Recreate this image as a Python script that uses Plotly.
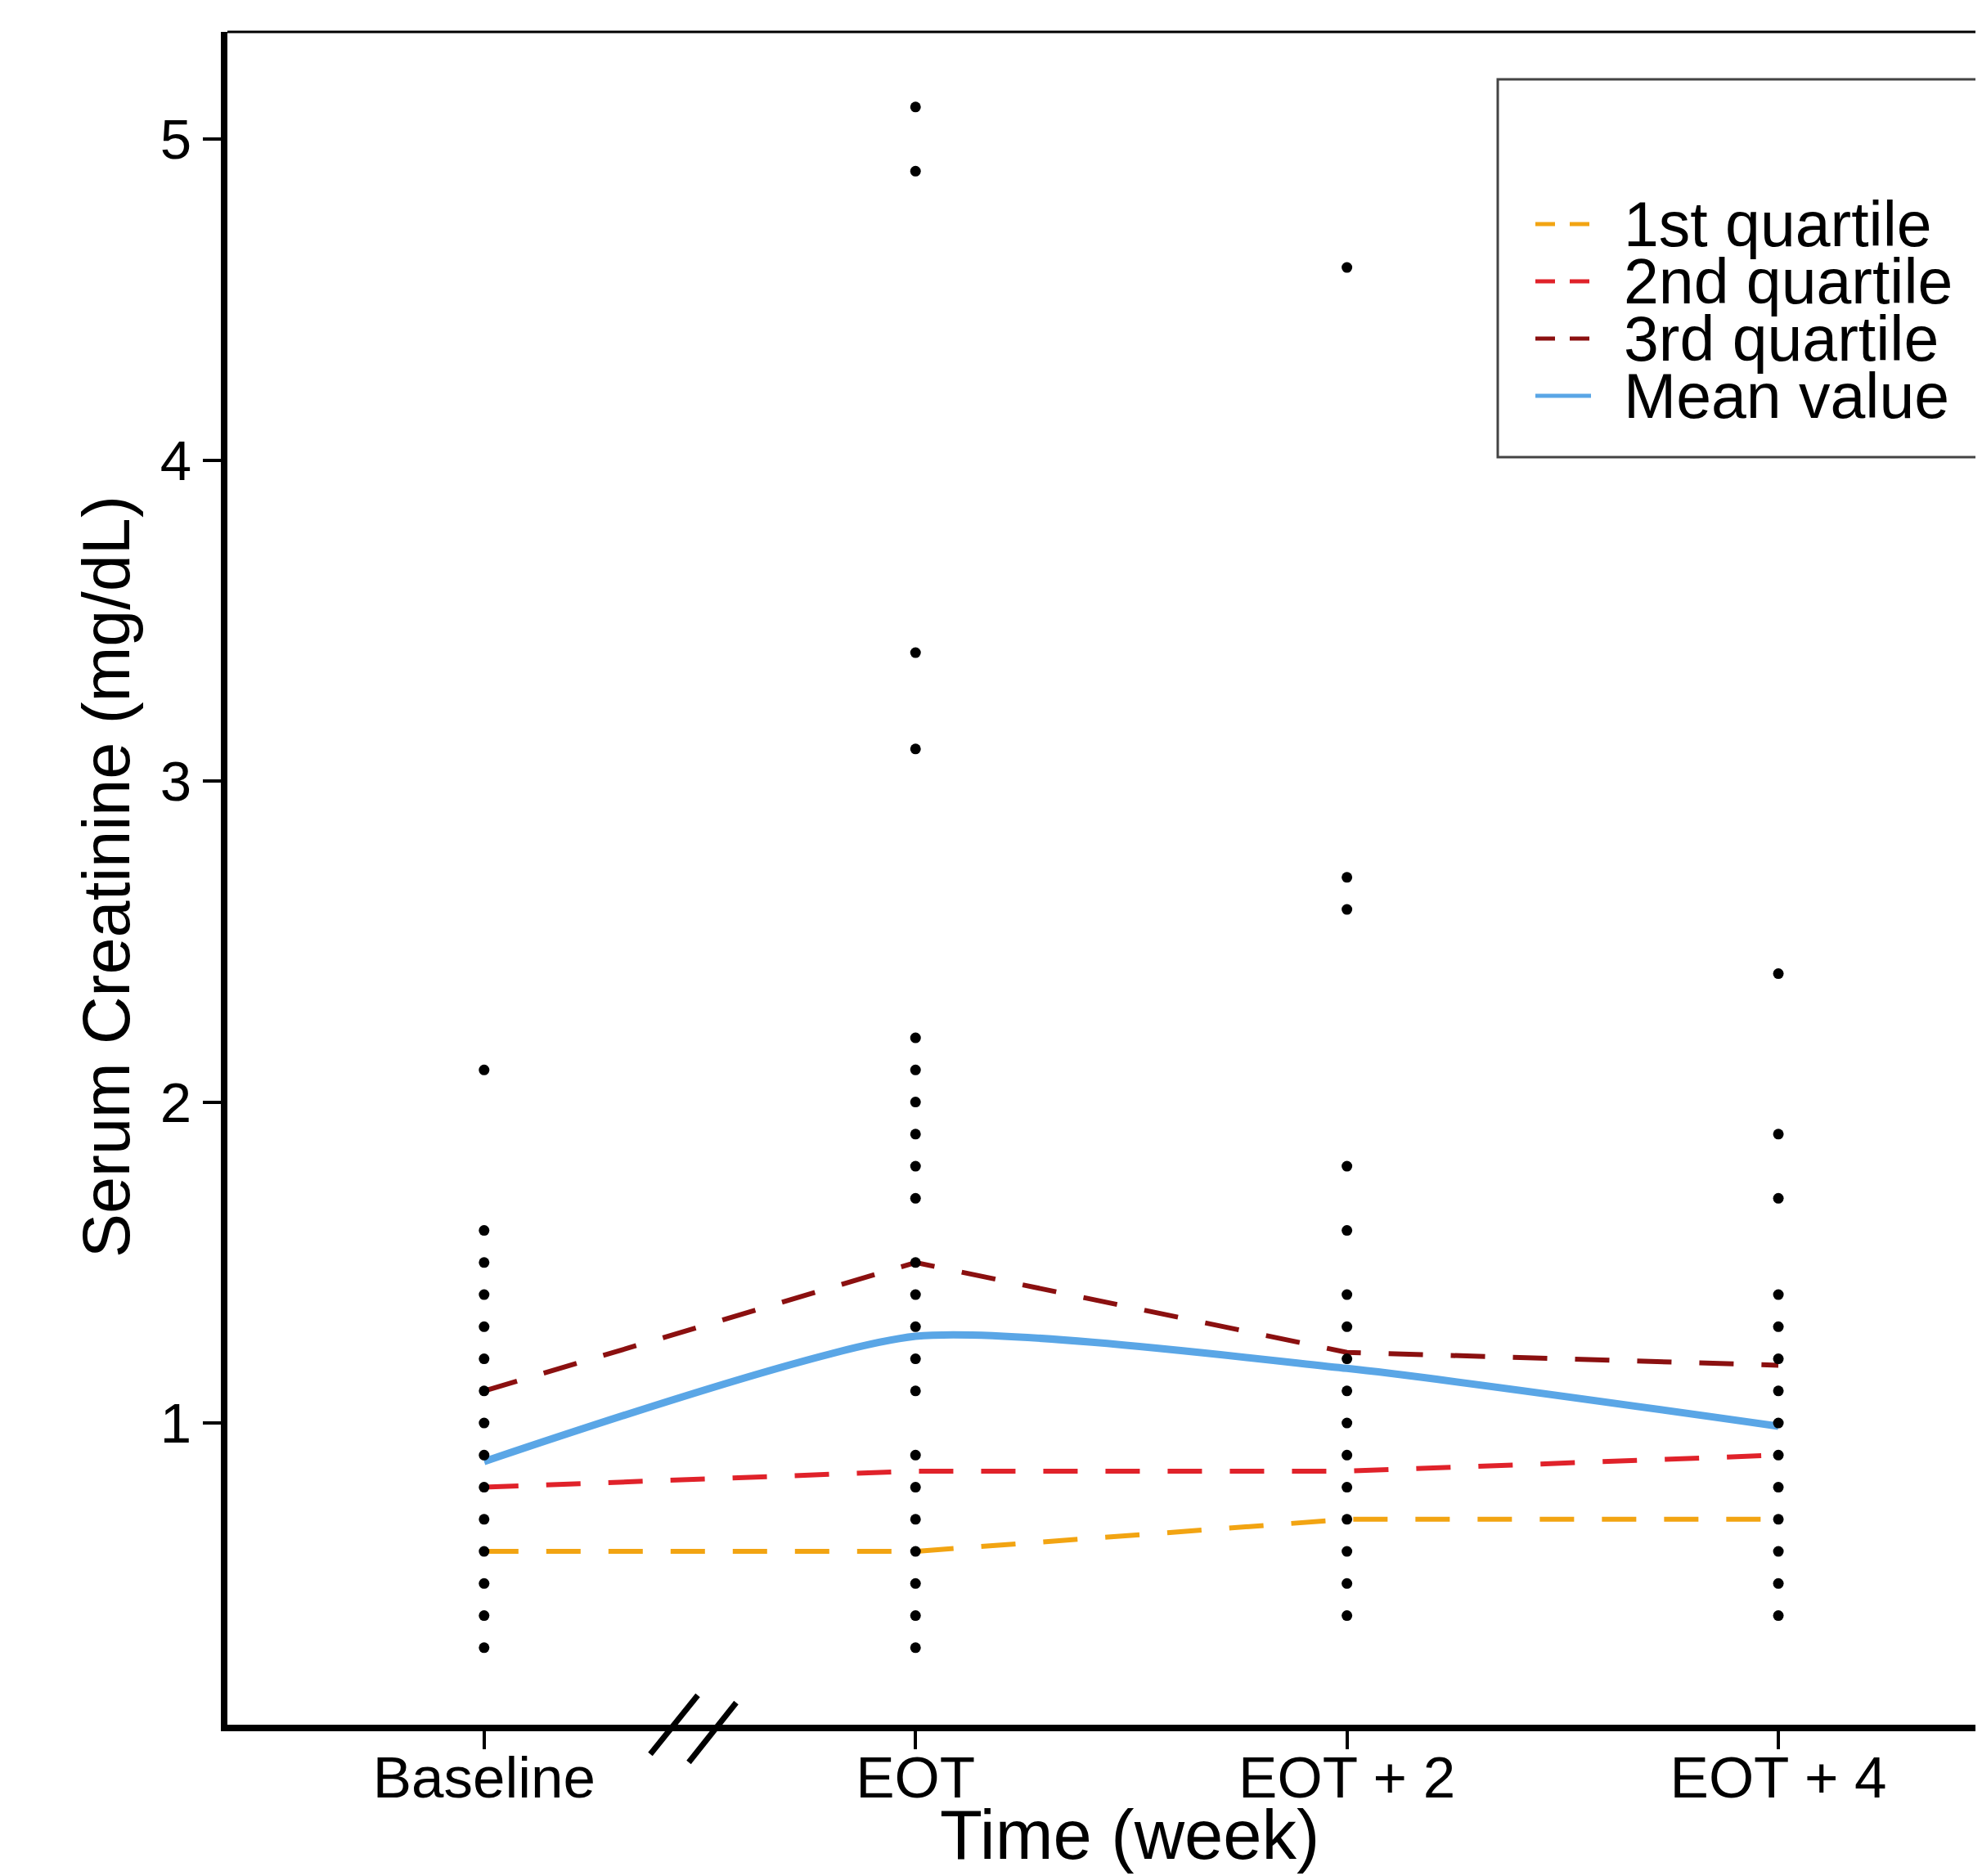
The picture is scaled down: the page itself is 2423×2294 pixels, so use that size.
import plotly.graph_objects as go

# ---------------- data ----------------
categories = ["Baseline", "EOT", "EOT + 2", "EOT + 4"]
cat_pos = [1, 2, 3, 4]

baseline_vals = [0.3, 0.4, 0.5, 0.6, 0.7, 0.8, 0.9, 1.0, 1.1, 1.2, 1.3, 1.4, 1.5, 1.6, 2.1]
eot_vals = [0.3, 0.4, 0.5, 0.6, 0.7, 0.8, 0.9, 1.1, 1.2, 1.3, 1.4, 1.5, 1.7, 1.8, 1.9,
            2.0, 2.1, 2.2, 3.1, 3.4, 4.9, 5.1]
eot2_vals = [0.4, 0.5, 0.6, 0.7, 0.8, 0.9, 1.0, 1.1, 1.2, 1.3, 1.4, 1.6, 1.8, 2.6, 2.7, 4.6]
eot4_vals = [0.4, 0.5, 0.6, 0.7, 0.8, 0.9, 1.0, 1.1, 1.2, 1.3, 1.4, 1.7, 1.9, 2.4]

q1_vals = [0.60, 0.60, 0.70, 0.70]
q2_vals = [0.80, 0.85, 0.85, 0.90]
q3_vals = [1.10, 1.50, 1.22, 1.18]
mean_vals = [0.88, 1.27, 1.17, 0.99]

series_names = ["1st quartile", "2nd quartile", "3rd quartile", "Mean value"]
y_ticks = [1, 2, 3, 4, 5]

# ---------------- style ----------------
FONT = "Liberation Sans, Arial, Helvetica, sans-serif"
C_Q1 = "#F2A412"
C_Q2 = "#E0222A"
C_Q3 = "#8B1010"
C_MEAN = "#5AA6E6"
DASH = "42px,34px"

BODY = 8  # default page margin of the html body
W, H = 2423 - BODY, 2294 - BODY
ML, MR, MT, MB = 270, 0, 31, 185
PW, PH = W - ML - MR, H - MT - MB

fig = go.Figure()

fig.add_trace(go.Scatter(x=cat_pos, y=q1_vals, mode="lines", name=series_names[0],
                         line=dict(color=C_Q1, width=6, dash=DASH), showlegend=False))
fig.add_trace(go.Scatter(x=cat_pos, y=q2_vals, mode="lines", name=series_names[1],
                         line=dict(color=C_Q2, width=6, dash=DASH), showlegend=False))
fig.add_trace(go.Scatter(x=cat_pos, y=q3_vals, mode="lines", name=series_names[2],
                         line=dict(color=C_Q3, width=6, dash=DASH), showlegend=False))
fig.add_trace(go.Scatter(x=cat_pos, y=mean_vals, mode="lines", name=series_names[3],
                         line=dict(color=C_MEAN, width=9, shape="spline", smoothing=0.6),
                         showlegend=False))

all_x, all_y = [], []
for pos, vals in zip(cat_pos, [baseline_vals, eot_vals, eot2_vals, eot4_vals]):
    all_x += [pos] * len(vals)
    all_y += vals
fig.add_trace(go.Scatter(x=all_x, y=all_y, mode="markers", name="Patients",
                         marker=dict(color="black", size=13), showlegend=False))

# ---------------- layout ----------------
def px_x(px):
    return (px - BODY - ML) / PW

def px_y(py):
    return (H - MB - (py - BODY)) / PH

shapes = []
# top frame line
shapes.append(dict(type="line", xref="paper", yref="paper", x0=0, x1=1.02, y0=1, y1=1,
                   line=dict(color="black", width=3)))
# axis break marks
for (xa, ya, xb, yb) in [(795, 2145, 853, 2073), (842, 2155, 900, 2082)]:
    shapes.append(dict(type="line", xref="paper", yref="paper",
                       x0=px_x(xa), y0=px_y(ya), x1=px_x(xb), y1=px_y(yb),
                       line=dict(color="black", width=7)))
# legend box
shapes.append(dict(type="rect", xref="paper", yref="paper",
                   x0=px_x(1831), x1=1.03, y0=px_y(559), y1=px_y(97),
                   line=dict(color="#444444", width=3), fillcolor="white", layer="above"))

annotations = []
leg_colors = [C_Q1, C_Q2, C_Q3, C_MEAN]
leg_y = [274, 344, 414, 484]
for name, col, yy in zip(series_names, leg_colors, leg_y):
    is_mean = name == "Mean value"
    shapes.append(dict(type="line", xref="paper", yref="paper",
                       x0=px_x(1877), x1=px_x(1945), y0=px_y(yy), y1=px_y(yy),
                       line=dict(color=col, width=5,
                                 dash="solid" if is_mean else "24px,18px"),
                       layer="above"))
    annotations.append(dict(text=name, xref="paper", yref="paper", x=px_x(1983), y=px_y(yy),
                            xanchor="left", yanchor="middle", showarrow=False,
                            font=dict(family=FONT, size=77, color="black")))

annotations.append(dict(text="Time (week)", xref="paper", yref="paper",
                        x=px_x(1381), y=px_y(2243), xanchor="center", yanchor="middle",
                        showarrow=False, font=dict(family=FONT, size=85, color="black")))
annotations.append(dict(text="Serum Creatinine (mg/dL)", xref="paper", yref="paper",
                        x=px_x(130), y=px_y(1072), xanchor="center", yanchor="middle",
                        textangle=-90,
                        showarrow=False, font=dict(family=FONT, size=81, color="black")))

fig.update_layout(
    width=W, height=H,
    margin=dict(l=ML, r=MR, t=MT, b=MB, pad=0),
    paper_bgcolor="white", plot_bgcolor="white",
    showlegend=False,
    font=dict(family=FONT, size=68, color="black"),
    shapes=shapes, annotations=annotations,
    xaxis=dict(range=[0.405, 4.472], tickvals=cat_pos, ticktext=categories,
               showgrid=False, zeroline=False, showline=True, linecolor="black", linewidth=8,
               ticks="outside", ticklen=22, tickwidth=4, tickcolor="black",
               ticklabelstandoff=-26,
               tickfont=dict(family=FONT, size=71, color="black")),
    yaxis=dict(range=[0.06, 5.334], tickvals=y_ticks,
               showgrid=False, zeroline=False, showline=True, linecolor="black", linewidth=8,
               ticks="outside", ticklen=22, tickwidth=4, tickcolor="black",
               ticklabelstandoff=0,
               tickfont=dict(family=FONT, size=69, color="black")),
)

fig.write_html("out.html")
